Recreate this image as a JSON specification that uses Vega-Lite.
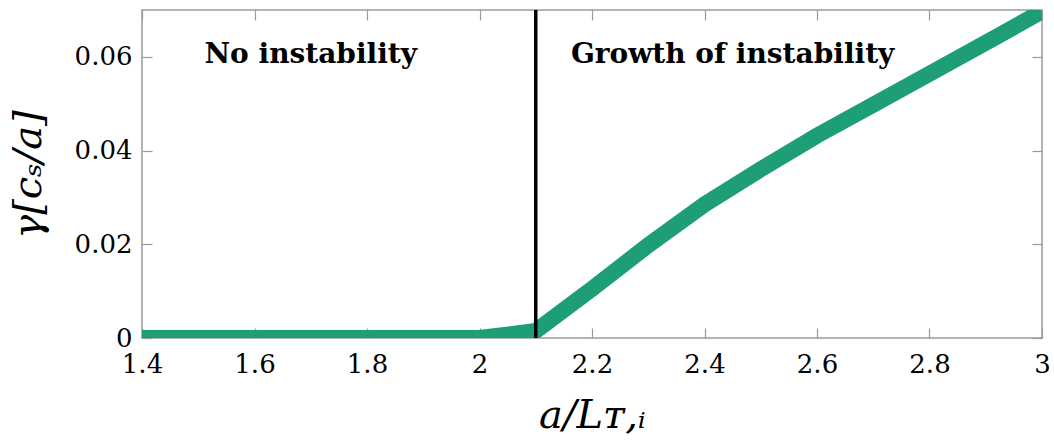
{
  "$schema": "https://vega.github.io/schema/vega-lite/v6.json",
  "width": 900,
  "height": 328,
  "autosize": {"type": "none"},
  "padding": {"left": 142, "top": 10, "right": 12, "bottom": 102},
  "background": "white",
  "config": {
    "view": {"stroke": "#9a9a9a", "strokeWidth": 1.5},
    "font": "DejaVu Serif",
    "axis": {
      "grid": false,
      "domain": false,
      "tickColor": "#9a9a9a",
      "tickSize": -10,
      "tickWidth": 1.2,
      "labelFont": "DejaVu Serif",
      "labelFontSize": 26,
      "labelColor": "#000000",
      "titleFont": "DejaVu Serif",
      "titleFontSize": 40,
      "titleFontWeight": "normal",
      "titleFontStyle": "italic",
      "titleColor": "#000000"
    }
  },
  "datasets": {
    "growth": [
      {"ratio": 1.4, "gamma": 0.0},
      {"ratio": 1.5, "gamma": 0.0},
      {"ratio": 1.6, "gamma": 0.0},
      {"ratio": 1.7, "gamma": 0.0},
      {"ratio": 1.8, "gamma": 0.0},
      {"ratio": 1.9, "gamma": 0.0},
      {"ratio": 2.0, "gamma": 0.0},
      {"ratio": 2.1, "gamma": 0.0015},
      {"ratio": 2.2, "gamma": 0.0105},
      {"ratio": 2.3, "gamma": 0.0198},
      {"ratio": 2.4, "gamma": 0.0285},
      {"ratio": 2.5, "gamma": 0.0360},
      {"ratio": 2.6, "gamma": 0.0432},
      {"ratio": 2.7, "gamma": 0.0498},
      {"ratio": 2.8, "gamma": 0.0564},
      {"ratio": 2.9, "gamma": 0.0630},
      {"ratio": 3.0, "gamma": 0.0697}
    ],
    "notes": [
      {"ratio": 1.7, "gamma": 0.0604, "label": "No instability"},
      {"ratio": 2.45, "gamma": 0.0604, "label": "Growth of instability"}
    ],
    "threshold": [
      {"ratio": 2.1}
    ]
  },
  "layer": [
    {
      "data": {"name": "growth"},
      "mark": {"type": "line", "color": "#1d9e77", "strokeWidth": 16, "clip": true, "strokeCap": "butt", "strokeJoin": "miter"},
      "encoding": {
        "x": {
          "field": "ratio", "type": "quantitative",
          "scale": {"domain": [1.4, 3], "nice": false, "zero": false},
          "axis": {"orient": "bottom", "values": [1.4, 1.6, 1.8, 2, 2.2, 2.4, 2.6, 2.8, 3], "format": ".1~f", "labelPadding": 23, "title": "a/Lᴛ,ᵢ", "titlePadding": 18, "labelFlush": false}
        },
        "y": {
          "field": "gamma", "type": "quantitative",
          "scale": {"domain": [0, 0.07], "nice": false},
          "axis": {"orient": "left", "values": [0, 0.02, 0.04, 0.06], "format": ".2~f", "labelPadding": 20, "title": "γ[cₛ/a]", "titlePadding": 26, "labelFlush": false}
        }
      }
    },
    {
      "data": {"name": "threshold"},
      "mark": {"type": "rule", "color": "#000000", "strokeWidth": 3.5},
      "encoding": {
        "x": {"field": "ratio", "type": "quantitative", "axis": null}
      }
    },
    {
      "data": {"name": "notes"},
      "mark": {"type": "text", "font": "DejaVu Serif", "fontWeight": "bold", "fontSize": 28, "color": "#000000", "align": "center", "baseline": "middle"},
      "encoding": {
        "x": {"field": "ratio", "type": "quantitative", "axis": null},
        "y": {"field": "gamma", "type": "quantitative", "axis": null},
        "text": {"field": "label"}
      }
    },
    {
      "data": {"name": "growth"},
      "mark": {"type": "point", "opacity": 0},
      "encoding": {
        "x": {"field": "ratio", "type": "quantitative", "axis": {"orient": "top", "values": [1.4, 1.6, 1.8, 2, 2.2, 2.4, 2.6, 2.8, 3], "labels": false, "title": null}},
        "y": {"field": "gamma", "type": "quantitative", "axis": {"orient": "right", "values": [0, 0.02, 0.04, 0.06], "labels": false, "title": null}}
      }
    }
  ],
  "resolve": {"axis": {"x": "independent", "y": "independent"}}
}
